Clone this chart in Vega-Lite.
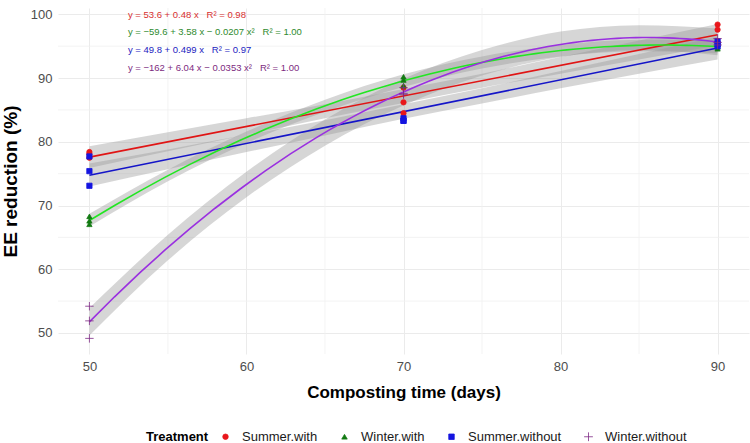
{
  "$schema": "https://vega.github.io/schema/vega-lite/v6.json",
  "width": 691,
  "height": 346,
  "autosize": {"type": "none"},
  "padding": {"left": 58, "top": 8, "right": 1, "bottom": 89},
  "background": "white",
  "config": {
    "view": {"stroke": null},
    "font": "Liberation Sans",
    "axis": {
      "grid": true, "gridColor": "#ebebeb", "gridWidth": 1,
      "domain": false, "ticks": false,
      "labelFont": "Liberation Sans", "labelFontSize": 13, "labelColor": "#4d4d4d",
      "titleFont": "Liberation Sans", "titleFontSize": 17, "titleFontWeight": "bold", "titleColor": "#000000"
    },
    "legend": {
      "orient": "none", "legendX": 88, "legendY": 422,
      "direction": "horizontal", "titleOrient": "left",
      "titleFont": "Liberation Sans", "titleFontSize": 13, "titleFontWeight": "bold", "titleColor": "#000000",
      "labelFont": "Liberation Sans", "labelFontSize": 13, "labelColor": "#1a1a1a",
      "symbolSize": 30, "symbolStrokeWidth": 0.8, "labelOffset": 10, "columnPadding": 20, "titlePadding": 10
    }
  },
  "datasets": {
    "points": [
      {"Treatment": "Summer.with", "day": 50, "EE": 78.4},
      {"Treatment": "Summer.with", "day": 50, "EE": 78.1},
      {"Treatment": "Summer.with", "day": 50, "EE": 77.5},
      {"Treatment": "Summer.with", "day": 70, "EE": 86.2},
      {"Treatment": "Summer.with", "day": 70, "EE": 84.5},
      {"Treatment": "Summer.with", "day": 70, "EE": 88.5},
      {"Treatment": "Summer.with", "day": 90, "EE": 98.4},
      {"Treatment": "Summer.with", "day": 90, "EE": 97.6},
      {"Treatment": "Summer.with", "day": 90, "EE": 95.6},
      {"Treatment": "Winter.with", "day": 50, "EE": 68.3},
      {"Treatment": "Winter.with", "day": 50, "EE": 67.6},
      {"Treatment": "Winter.with", "day": 50, "EE": 67.05},
      {"Treatment": "Winter.with", "day": 70, "EE": 90.2},
      {"Treatment": "Winter.with", "day": 70, "EE": 89.7},
      {"Treatment": "Winter.with", "day": 70, "EE": 88.8},
      {"Treatment": "Winter.with", "day": 90, "EE": 95.3},
      {"Treatment": "Winter.with", "day": 90, "EE": 94.9},
      {"Treatment": "Winter.with", "day": 90, "EE": 94.6},
      {"Treatment": "Summer.without", "day": 50, "EE": 77.7},
      {"Treatment": "Summer.without", "day": 50, "EE": 75.4},
      {"Treatment": "Summer.without", "day": 50, "EE": 73.1},
      {"Treatment": "Summer.without", "day": 70, "EE": 83.7},
      {"Treatment": "Summer.without", "day": 70, "EE": 83.3},
      {"Treatment": "Summer.without", "day": 70, "EE": 83.3},
      {"Treatment": "Summer.without", "day": 90, "EE": 95.8},
      {"Treatment": "Summer.without", "day": 90, "EE": 95.3},
      {"Treatment": "Summer.without", "day": 90, "EE": 95.0},
      {"Treatment": "Winter.without", "day": 50, "EE": 54.2},
      {"Treatment": "Winter.without", "day": 50, "EE": 51.9},
      {"Treatment": "Winter.without", "day": 50, "EE": 49.15},
      {"Treatment": "Winter.without", "day": 70, "EE": 88.5},
      {"Treatment": "Winter.without", "day": 70, "EE": 87.6},
      {"Treatment": "Winter.without", "day": 70, "EE": 87.4},
      {"Treatment": "Winter.without", "day": 90, "EE": 96.2},
      {"Treatment": "Winter.without", "day": 90, "EE": 95.6},
      {"Treatment": "Winter.without", "day": 90, "EE": 95.2}
    ],
    "bands": [
      {"Treatment": "Summer.with", "day": 50, "lo": 75.9, "hi": 79.3},
      {"Treatment": "Summer.with", "day": 55, "lo": 78.5, "hi": 81.5},
      {"Treatment": "Summer.with", "day": 60, "lo": 81.1, "hi": 83.7},
      {"Treatment": "Summer.with", "day": 65, "lo": 83.7, "hi": 85.9},
      {"Treatment": "Summer.with", "day": 70, "lo": 86.1, "hi": 88.3},
      {"Treatment": "Summer.with", "day": 75, "lo": 88.5, "hi": 90.7},
      {"Treatment": "Summer.with", "day": 80, "lo": 90.7, "hi": 93.3},
      {"Treatment": "Summer.with", "day": 85, "lo": 92.9, "hi": 95.9},
      {"Treatment": "Summer.with", "day": 90, "lo": 95.1, "hi": 98.5},
      {"Treatment": "Summer.without", "day": 50, "lo": 73.0, "hi": 76.6},
      {"Treatment": "Summer.without", "day": 55, "lo": 75.7, "hi": 78.8},
      {"Treatment": "Summer.without", "day": 60, "lo": 78.4, "hi": 81.1},
      {"Treatment": "Summer.without", "day": 65, "lo": 81.0, "hi": 83.4},
      {"Treatment": "Summer.without", "day": 70, "lo": 83.6, "hi": 85.9},
      {"Treatment": "Summer.without", "day": 75, "lo": 86.0, "hi": 88.4},
      {"Treatment": "Summer.without", "day": 80, "lo": 88.4, "hi": 91.1},
      {"Treatment": "Summer.without", "day": 85, "lo": 90.7, "hi": 93.8},
      {"Treatment": "Summer.without", "day": 90, "lo": 92.9, "hi": 96.5},
      {"Treatment": "Winter.with", "day": 50, "lo": 66.7, "hi": 68.7},
      {"Treatment": "Winter.with", "day": 55, "lo": 73.8, "hi": 75.6},
      {"Treatment": "Winter.with", "day": 60, "lo": 79.8, "hi": 81.6},
      {"Treatment": "Winter.with", "day": 65, "lo": 84.7, "hi": 86.6},
      {"Treatment": "Winter.with", "day": 70, "lo": 88.6, "hi": 90.6},
      {"Treatment": "Winter.with", "day": 75, "lo": 91.5, "hi": 93.4},
      {"Treatment": "Winter.with", "day": 80, "lo": 93.4, "hi": 95.2},
      {"Treatment": "Winter.with", "day": 85, "lo": 94.2, "hi": 96.0},
      {"Treatment": "Winter.with", "day": 90, "lo": 93.9, "hi": 95.9},
      {"Treatment": "Winter.without", "day": 50, "lo": 49.6, "hi": 53.9},
      {"Treatment": "Winter.without", "day": 55, "lo": 61.4, "hi": 65.4},
      {"Treatment": "Winter.without", "day": 60, "lo": 71.3, "hi": 75.3},
      {"Treatment": "Winter.without", "day": 65, "lo": 79.4, "hi": 83.5},
      {"Treatment": "Winter.without", "day": 70, "lo": 85.7, "hi": 89.9},
      {"Treatment": "Winter.without", "day": 75, "lo": 90.4, "hi": 94.4},
      {"Treatment": "Winter.without", "day": 80, "lo": 93.3, "hi": 97.3},
      {"Treatment": "Winter.without", "day": 85, "lo": 94.4, "hi": 98.3},
      {"Treatment": "Winter.without", "day": 90, "lo": 93.6, "hi": 97.8}
    ],
    "minorY": [{"EE": 55}, {"EE": 65}, {"EE": 75}, {"EE": 85}, {"EE": 95}],
    "minorX": [{"day": 55}, {"day": 65}, {"day": 75}, {"day": 85}]
  },
  "layer": [
    {
      "data": {"name": "minorY"},
      "mark": {"type": "rule", "color": "#f0f0f0", "strokeWidth": 0.8},
      "encoding": {
        "y": {"field": "EE", "type": "quantitative", "title": "EE reduction (%)",
              "scale": {"domain": [46.7, 101], "nice": false, "zero": false},
              "axis": {"values": [50, 60, 70, 80, 90, 100], "labelPadding": 6, "titlePadding": 10, "titleFontSize": 19}}
      }
    },
    {
      "data": {"name": "minorX"},
      "mark": {"type": "rule", "color": "#f0f0f0", "strokeWidth": 0.8},
      "encoding": {
        "x": {"field": "day", "type": "quantitative", "title": "Composting time (days)",
              "scale": {"domain": [48, 92], "nice": false, "zero": false},
              "axis": {"values": [50, 60, 70, 80, 90], "labelPadding": 6, "titlePadding": 11}}
      }
    },
    {
      "data": {"name": "bands"},
      "mark": {"type": "area", "color": "#999999", "opacity": 0.4, "interpolate": "monotone"},
      "encoding": {
        "x": {"field": "day", "type": "quantitative", "title": "Composting time (days)"},
        "y": {"field": "lo", "type": "quantitative", "title": "EE reduction (%)"},
        "y2": {"field": "hi"},
        "detail": {"field": "Treatment"}
      }
    },
    {
      "data": {"name": "points"},
      "transform": [
        {"filter": "datum.Treatment === 'Summer.with'"},
        {"regression": "EE", "on": "day", "method": "linear", "extent": [50, 90]}
      ],
      "mark": {"type": "line", "color": "#e01515", "strokeWidth": 1.6},
      "encoding": {
        "x": {"field": "day", "type": "quantitative", "title": "Composting time (days)"},
        "y": {"field": "EE", "type": "quantitative", "title": "EE reduction (%)"}
      }
    },
    {
      "data": {"name": "points"},
      "transform": [
        {"filter": "datum.Treatment === 'Summer.without'"},
        {"regression": "EE", "on": "day", "method": "linear", "extent": [50, 90]}
      ],
      "mark": {"type": "line", "color": "#1515c8", "strokeWidth": 1.6},
      "encoding": {
        "x": {"field": "day", "type": "quantitative", "title": "Composting time (days)"},
        "y": {"field": "EE", "type": "quantitative", "title": "EE reduction (%)"}
      }
    },
    {
      "data": {"name": "points"},
      "transform": [
        {"filter": "datum.Treatment === 'Winter.with'"},
        {"regression": "EE", "on": "day", "method": "poly", "order": 2, "extent": [50, 90]}
      ],
      "mark": {"type": "line", "color": "#22e622", "strokeWidth": 1.6},
      "encoding": {
        "x": {"field": "day", "type": "quantitative", "title": "Composting time (days)"},
        "y": {"field": "EE", "type": "quantitative", "title": "EE reduction (%)"}
      }
    },
    {
      "data": {"name": "points"},
      "transform": [
        {"filter": "datum.Treatment === 'Winter.without'"},
        {"regression": "EE", "on": "day", "method": "poly", "order": 2, "extent": [50, 90]}
      ],
      "mark": {"type": "line", "color": "#9a30e0", "strokeWidth": 1.6},
      "encoding": {
        "x": {"field": "day", "type": "quantitative", "title": "Composting time (days)"},
        "y": {"field": "EE", "type": "quantitative", "title": "EE reduction (%)"}
      }
    },
    {
      "data": {"name": "points"},
      "mark": {"type": "point", "filled": true, "size": 28, "strokeWidth": 0.8, "opacity": 1},
      "encoding": {
        "x": {"field": "day", "type": "quantitative", "title": "Composting time (days)"},
        "y": {"field": "EE", "type": "quantitative", "title": "EE reduction (%)"},
        "fill": {"field": "Treatment", "type": "nominal", "title": "Treatment",
                 "scale": {"domain": ["Summer.with", "Winter.with", "Summer.without", "Winter.without"],
                           "range": ["#e8161b", "#127a12", "#1414e0", "#7d2a85"]}},
        "stroke": {"field": "Treatment", "type": "nominal", "title": "Treatment",
                 "scale": {"domain": ["Summer.with", "Winter.with", "Summer.without", "Winter.without"],
                           "range": ["#e8161b", "#127a12", "#1414e0", "#7d2a85"]}},
        "shape": {"field": "Treatment", "type": "nominal", "title": "Treatment",
                 "scale": {"domain": ["Summer.with", "Winter.with", "Summer.without", "Winter.without"],
                           "range": ["circle", "triangle-up", "square", "M-1.6,0L1.6,0M0,-1.6L0,1.6"]}}
      }
    },
    {
      "data": {"values": [{}]},
      "mark": {"type": "text", "text": "y = 53.6 + 0.48 x\u00a0\u00a0\u00a0R² = 0.98", "align": "left", "baseline": "middle", "fontSize": 9.5, "color": "#d83030"},
      "encoding": {"x": {"datum": 52.45, "type": "quantitative"}, "y": {"datum": 99.97, "type": "quantitative"}}
    },
    {
      "data": {"values": [{}]},
      "mark": {"type": "text", "text": "y = −59.6 + 3.58 x − 0.0207 x²\u00a0\u00a0\u00a0R² = 1.00", "align": "left", "baseline": "middle", "fontSize": 9.5, "color": "#2e8a2e"},
      "encoding": {"x": {"datum": 52.45, "type": "quantitative"}, "y": {"datum": 97.2, "type": "quantitative"}}
    },
    {
      "data": {"values": [{}]},
      "mark": {"type": "text", "text": "y = 49.8 + 0.499 x\u00a0\u00a0\u00a0R² = 0.97", "align": "left", "baseline": "middle", "fontSize": 9.5, "color": "#2222c0"},
      "encoding": {"x": {"datum": 52.45, "type": "quantitative"}, "y": {"datum": 94.4, "type": "quantitative"}}
    },
    {
      "data": {"values": [{}]},
      "mark": {"type": "text", "text": "y = −162 + 6.04 x − 0.0353 x²\u00a0\u00a0\u00a0R² = 1.00", "align": "left", "baseline": "middle", "fontSize": 9.5, "color": "#7d2a80"},
      "encoding": {"x": {"datum": 52.45, "type": "quantitative"}, "y": {"datum": 91.6, "type": "quantitative"}}
    }
  ]
}
